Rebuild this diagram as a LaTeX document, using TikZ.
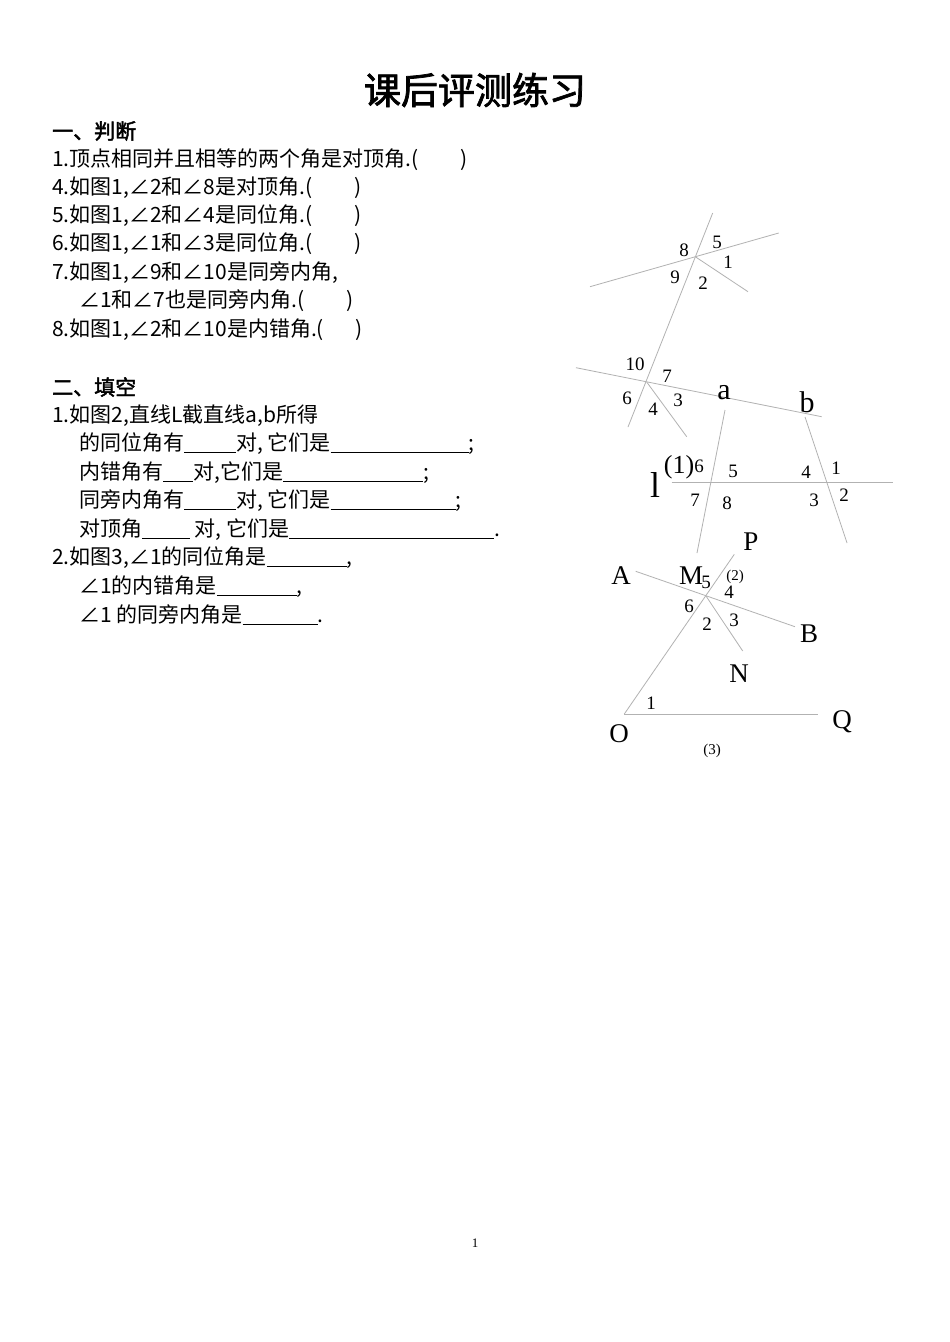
\documentclass[tikz,border=0pt]{standalone}
\usepackage{fontspec}
\setmainfont{Liberation Serif}
\newfontfamily\cjk{Noto Sans CJK SC}[AutoFakeBold=2]
\begin{document}
\begin{tikzpicture}[x=1pt,y=-1pt,
  ln/.style={draw=black!30,line width=0.8pt},
  txt/.style={anchor=west,inner sep=0pt,font=\cjk\fontsize{21}{24}\selectfont},
  num/.style={inner sep=0pt,font=\fontsize{19}{20}\selectfont},
  big/.style={inner sep=0pt,font=\fontsize{30}{32}\selectfont}]
\useasboundingbox[fill=white] (0,0) rectangle (950,1342);
\newcommand{\bl}[1]{\underline{\hspace{#1pt}}}
\node[inner sep=0pt,font=\cjk\bfseries\fontsize{37}{40}\selectfont] (title) at (475,90) {课后评测练习};
\node[txt,font=\cjk\bfseries\fontsize{21}{24}\selectfont] (h1) at (52,131) {一、判断};
\node[txt] (t1) at (52,160) {1.顶点相同并且相等的两个角是对顶角.(\hspace{2em})};
\node[txt] (t2) at (52,188) {4.如图1,∠2和∠8是对顶角.(\hspace{2em})};
\node[txt] (t3) at (52,216) {5.如图1,∠2和∠4是同位角.(\hspace{2em})};
\node[txt] (t4) at (52,244) {6.如图1,∠1和∠3是同位角.(\hspace{2em})};
\node[txt] (t5) at (52,273) {7.如图1,∠9和∠10是同旁内角,};
\node[txt] (t6) at (79,301) {∠1和∠7也是同旁内角.(\hspace{2em})};
\node[txt] (t7) at (52,330) {8.如图1,∠2和∠10是内错角.(\hspace{1.5em})};
\node[txt,font=\cjk\bfseries\fontsize{21}{24}\selectfont] (h2) at (52,387) {二、填空};
\node[txt] (f1) at (52,416) {1.如图2,直线L截直线a,b所得};
\node[txt] (f2) at (79,444) {的同位角有\bl{52}对, 它们是\bl{138};};
\node[txt] (f3) at (79,473) {内错角有\bl{30}对,它们是\bl{140};};
\node[txt] (f4) at (79,501) {同旁内角有\bl{52}对, 它们是\bl{125};};
\node[txt] (f5) at (79,530) {对顶角\bl{48} 对, 它们是\bl{205}.};
\node[txt] (f6) at (52,558) {2.如图3,∠1的同位角是\bl{80},};
\node[txt] (f7) at (79,587) {∠1的内错角是\bl{80},};
\node[txt] (f8) at (79,615) {∠1 的同旁内角是\bl{75}.};
% figure 1
\coordinate (I1) at (695.7,257);
\coordinate (I2) at (646.7,382);
\coordinate (L1a) at (712.7,213); \coordinate (L1b) at (628,427);
\coordinate (H1a) at (590,286.7); \coordinate (H1b) at (778.7,233);
\coordinate (S1) at (748,291.7);
\coordinate (H2a) at (576,367.7); \coordinate (H2b) at (821.7,416.7);
\coordinate (S2) at (686.7,436.7);
\draw[ln] (L1a)--(L1b); \draw[ln] (H1a)--(H1b); \draw[ln] (I1)--(S1);
\draw[ln] (H2a)--(H2b); \draw[ln] (I2)--(S2);
\node[num] (n8) at (684,250) {8}; \node[num] (n5) at (717,242) {5};
\node[num] (n1) at (728,262) {1}; \node[num] (n9) at (675,277) {9};
\node[num] (n2) at (703,283) {2}; \node[num] (n10) at (635,364) {10};
\node[num] (n7) at (667,376) {7}; \node[num] (n6) at (627,398) {6};
\node[num] (n3) at (678,400) {3}; \node[num] (n4) at (653,409) {4};
\node[big] (la) at (724,393) {a}; \node[big] (lb) at (807,402) {b};
% figure 2
\coordinate (Aa) at (725,410); \coordinate (Ab) at (697,553);
\coordinate (Ba) at (805,417); \coordinate (Bb) at (847,543);
\coordinate (La) at (671.7,482.7); \coordinate (Lb) at (893,482.7);
\draw[ln] (Aa)--(Ab); \draw[ln] (Ba)--(Bb); \draw[ln] (La)--(Lb);
\node[inner sep=0pt,font=\fontsize{36}{38}\selectfont] (ll) at (655,485) {l};
\node[inner sep=0pt,font=\fontsize{26}{28}\selectfont] (c1) at (679,467) {(1)};
\node[num] (m6) at (699,466) {6}; \node[num] (m5) at (733,471) {5};
\node[num] (m4) at (806,472) {4}; \node[num] (m1) at (836,468) {1};
\node[num] (m7) at (695,500) {7}; \node[num] (m8) at (727,503) {8};
\node[num] (m3) at (814,500) {3}; \node[num] (m2) at (844,495) {2};
% figure 3
\coordinate (M) at (706,596);
\coordinate (A) at (635.7,571.3); \coordinate (B) at (795,626.7);
\coordinate (O) at (624.3,714); \coordinate (P) at (734.3,554.3);
\coordinate (N) at (742.7,651); \coordinate (Q) at (818.3,714);
\draw[ln] (A)--(B); \draw[ln] (O)--(P); \draw[ln] (M)--(N); \draw[ln] (O)--(Q);
\node[big,font=\fontsize{27}{28}\selectfont] (tP) at (751,542) {P};
\node[big,font=\fontsize{27}{28}\selectfont] (tA) at (621,576) {A};
\node[big,font=\fontsize{27}{28}\selectfont] (tM) at (691,576) {M};
\node[big,font=\fontsize{27}{28}\selectfont] (tB) at (809,634) {B};
\node[big,font=\fontsize{27}{28}\selectfont] (tN) at (739,674) {N};
\node[big,font=\fontsize{27}{28}\selectfont] (tO) at (619,734) {O};
\node[big,font=\fontsize{27}{28}\selectfont] (tQ) at (842,722) {Q};
\node[num] (k5) at (706,582) {5};
\node[inner sep=0pt,font=\fontsize{15}{16}\selectfont] (c2) at (735,577) {(2)};
\node[num] (k4) at (729,592) {4}; \node[num] (k6) at (689,606) {6};
\node[num] (k2) at (707,624) {2}; \node[num] (k3) at (734,620) {3};
\node[num] (k1) at (651,703) {1};
\node[inner sep=0pt,font=\fontsize{15}{16}\selectfont] (c3) at (712,751) {(3)};
\node[inner sep=0pt,font=\fontsize{13}{14}\selectfont] (pg) at (475,1243) {1};
\end{tikzpicture}
\end{document}
